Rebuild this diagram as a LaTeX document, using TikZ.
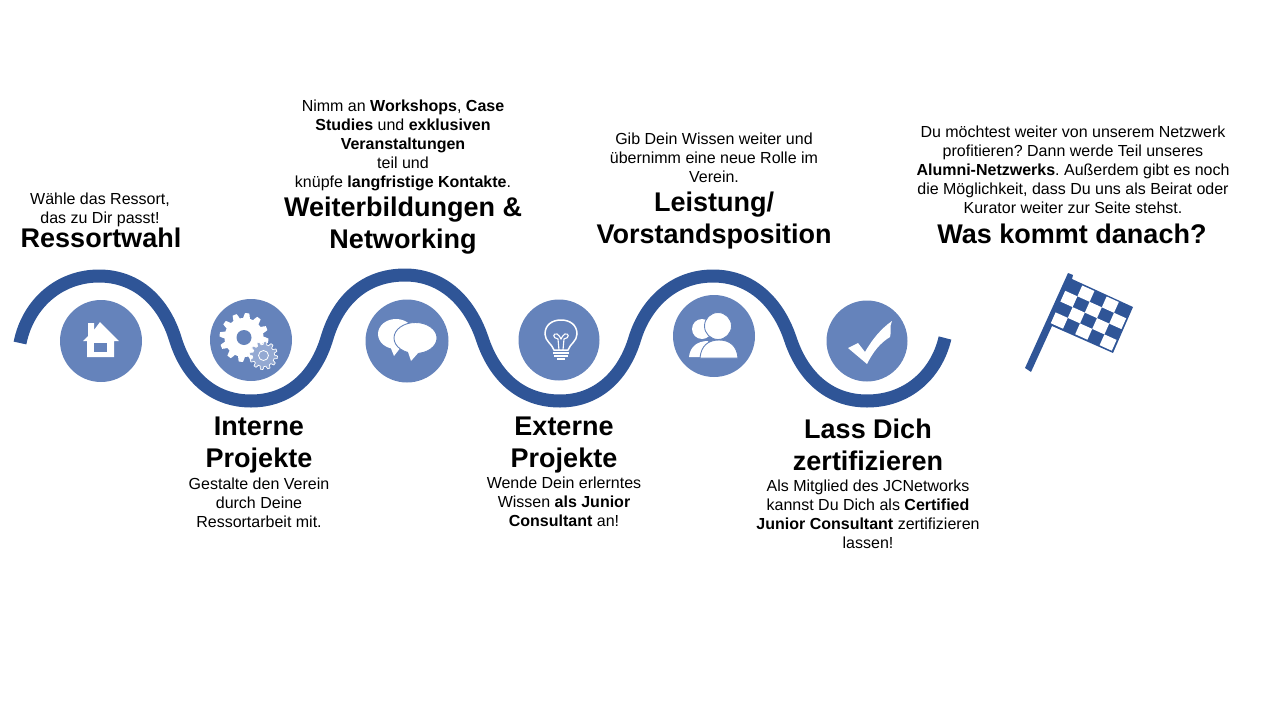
\documentclass[tikz,border=0pt]{standalone}
\usepackage{fontspec}
\setmainfont{Liberation Sans}
\usepackage{xcolor}
\usetikzlibrary{positioning}
\definecolor{wave}{HTML}{2F5597}
\definecolor{discblue}{HTML}{6583BB}
\definecolor{smallgear}{HTML}{94A9D2}
\begin{document}
\frenchspacing
\begin{tikzpicture}[x=1pt,y=-1pt,
    head/.style={font=\fontsize{27}{32}\selectfont\bfseries, align=center, inner sep=0pt},
    body/.style={font=\fontsize{16}{19}\selectfont, align=center, inner sep=0pt},
    disc/.style={shape=circle, fill=discblue, draw=none, inner sep=0pt, minimum size=#1},
    icon/.style={fill=white, draw=none},
    cutout/.style={draw=discblue, fill=white, line width=0.9pt}]
    \useasboundingbox (0,0) rectangle (1280,720);

    % wave
    \draw[wave,line width=13pt] (20,343)
      .. controls (28,303) and (60,276) .. (99,276)
      .. controls (138,276) and (164,303) .. (175,338)
      .. controls (186,375) and (212,401) .. (251,401)
      .. controls (290,401) and (316,375) .. (327,338)
      .. controls (338,301) and (364,275) .. (405,275)
      .. controls (444,275) and (470,303) .. (482,338)
      .. controls (494,375) and (520,401) .. (560,401)
      .. controls (598,401) and (624,375) .. (635,338)
      .. controls (646,303) and (674,276) .. (713,276)
      .. controls (752,276) and (778,303) .. (790,338)
      .. controls (802,375) and (828,401) .. (867,401)
      .. controls (906,401) and (936,376) .. (945,338);

    % discs
    \node[disc=82pt] (home) at (101,341) {};
    \node[disc=82pt] (gears) at (251,340) {};
    \node[disc=83pt] (talk) at (407,341) {};
    \node[disc=81pt] (bulb) at (559,340) {};
    \node[disc=82pt] (people) at (714,336) {};
    \node[disc=81pt] (check) at (867,341) {};

    % house
    \fill[icon] (83,341) -- (88,336) -- (88,323) -- (94,323) -- (94,330) -- (100,322)
      -- (119,341) -- (114,341) -- (114,357) -- (87,357) -- (87,341) -- cycle;
    \fill[discblue] (94,343) rectangle (107,352);

    % gears
    \fill[icon] plot[domain=0:360,samples=145,variable=\t]
      ({244+min(24.5,max(19.5,22+9*sin(12*\t)))*cos(\t)},{337.5+min(24.5,max(19.5,22+9*sin(12*\t)))*sin(\t)}) -- cycle;
    \fill[discblue] (244,337.5) circle (7.5);
    \draw[white,fill=smallgear,line width=0.7pt] plot[domain=0:360,samples=145,variable=\t]
      ({263.5+min(14,max(11,12.5+6*sin(12*\t)))*cos(\t)},{355.5+min(14,max(11,12.5+6*sin(12*\t)))*sin(\t)}) -- cycle;
    \draw[white,fill=smallgear,line width=0.8pt] (263.5,355.5) circle (5);

    % speech bubbles
    \fill[icon] (396,334) ellipse (18 and 15);
    \fill[icon] (390,346) -- (394,356) -- (401,347) -- cycle;
    \draw[cutout] (415.5,338) ellipse (21.5 and 15.5);
    \fill[icon] (408,352) -- (411,361) -- (419,352) -- cycle;

    % bulb
    \draw[white,line width=1.5pt] (554,350) .. controls (552,344) and (545,341) .. (545,334)
      .. controls (545,325) and (552,320) .. (561,320)
      .. controls (570,320) and (577,325) .. (577,334)
      .. controls (577,341) and (570,344) .. (568,350) -- cycle;
    \draw[white,line width=1.1pt] (559,350) -- (558,339) .. controls (552,338) and (553,333) .. (557,334)
      .. controls (559,335) and (560,337) .. (561,339) .. controls (562,337) and (563,335) .. (565,334)
      .. controls (569,333) and (570,338) .. (564,339) -- (563,350);
    \fill[icon] (553,352) rectangle (569,354);
    \fill[icon] (554,355) rectangle (568,357);
    \fill[icon] (557,358) rectangle (565,360);

    % people
    \fill[icon] (702,329) circle (10);
    \fill[icon] (689,357) .. controls (690,347) and (697,341) .. (708,341) -- (712,357) -- cycle;
    \draw[cutout] (718,326) circle (13.5);
    \draw[cutout] (700,358) .. controls (701,346) and (708,340) .. (719,340)
      .. controls (730,340) and (737,346) .. (738,358) -- cycle;

    % check mark
    \fill[icon] (848,348) -- (858,343) -- (865,352) .. controls (873,338) and (882,328) .. (892,321)
      .. controls (889,327) and (892,331) .. (890,337) .. controls (880,343) and (873,352) .. (867,364) -- cycle;

    % flag
    \fill[wave] (1025,368) -- (1068,273) -- (1073,275) -- (1072,279) -- (1133,307) -- (1113,353)
      -- (1052,326) -- (1031,372) -- cycle;
    \begin{scope}[shift={(1070,280)},x={(12.2pt,-5.5pt)},y={(-4.8pt,-10.8pt)}]
      \foreach \r in {0,...,3} {
        \foreach \c in {0,...,4} {
          \ifodd\numexpr\r+\c\relax
            \fill[white] (\c,\r) -- (\c+1,\r) -- (\c+1,\r+1) -- (\c,\r+1) -- cycle;
          \fi
        }
      }
    \end{scope}

    % texts above the wave
    \node[body] (ressortText) at (100,210) {Wähle das Ressort,\\das zu Dir passt!};
    \node[head] (ressortHead) at (101,238) {Ressortwahl};

    \node[body] (weiterText) at (403,145) {Nimm an \textbf{Workshops}, \textbf{Case}\\\textbf{Studies} und \textbf{exklusiven}\\\textbf{Veranstaltungen}\\teil und\\knüpfe \textbf{langfristige Kontakte}.};
    \node[head] (weiterHead) at (403,226) {Weiterbildungen \&\\Networking};

    \node[body] (leistungText) at (714,158) {Gib Dein Wissen weiter und\\übernimm eine neue Rolle im\\Verein.};
    \node[head] (leistungHead) at (714,221) {Leistung/\\Vorstandsposition};

    \node[body] (danachText) at (1073,170) {Du möchtest weiter von unserem Netzwerk\\profitieren? Dann werde Teil unseres\\\textbf{Alumni-Netzwerks}. Außerdem gibt es noch\\die Möglichkeit, dass Du uns als Beirat oder\\Kurator weiter zur Seite stehst.};
    \node[head] (danachHead) at (1072,234) {Was kommt danach?};

    % texts below the wave
    \node[head] (interneHead) at (259,445) {Interne\\Projekte};
    \node[body] (interneText) at (259,503) {Gestalte den Verein\\durch Deine\\Ressortarbeit mit.};

    \node[head] (externeHead) at (564,445) {Externe\\Projekte};
    \node[body] (externeText) at (564,502) {Wende Dein erlerntes\\Wissen \textbf{als Junior}\\\textbf{Consultant} an!};

    \node[head] (zertHead) at (868,445) {Lass Dich\\zertifizieren};
    \node[body] (zertText) at (868,514.5) {Als Mitglied des JCNetworks\\kannst Du Dich als \textbf{Certified}\\\textbf{Junior Consultant} zertifizieren\\lassen!};
\end{tikzpicture}
\end{document}
